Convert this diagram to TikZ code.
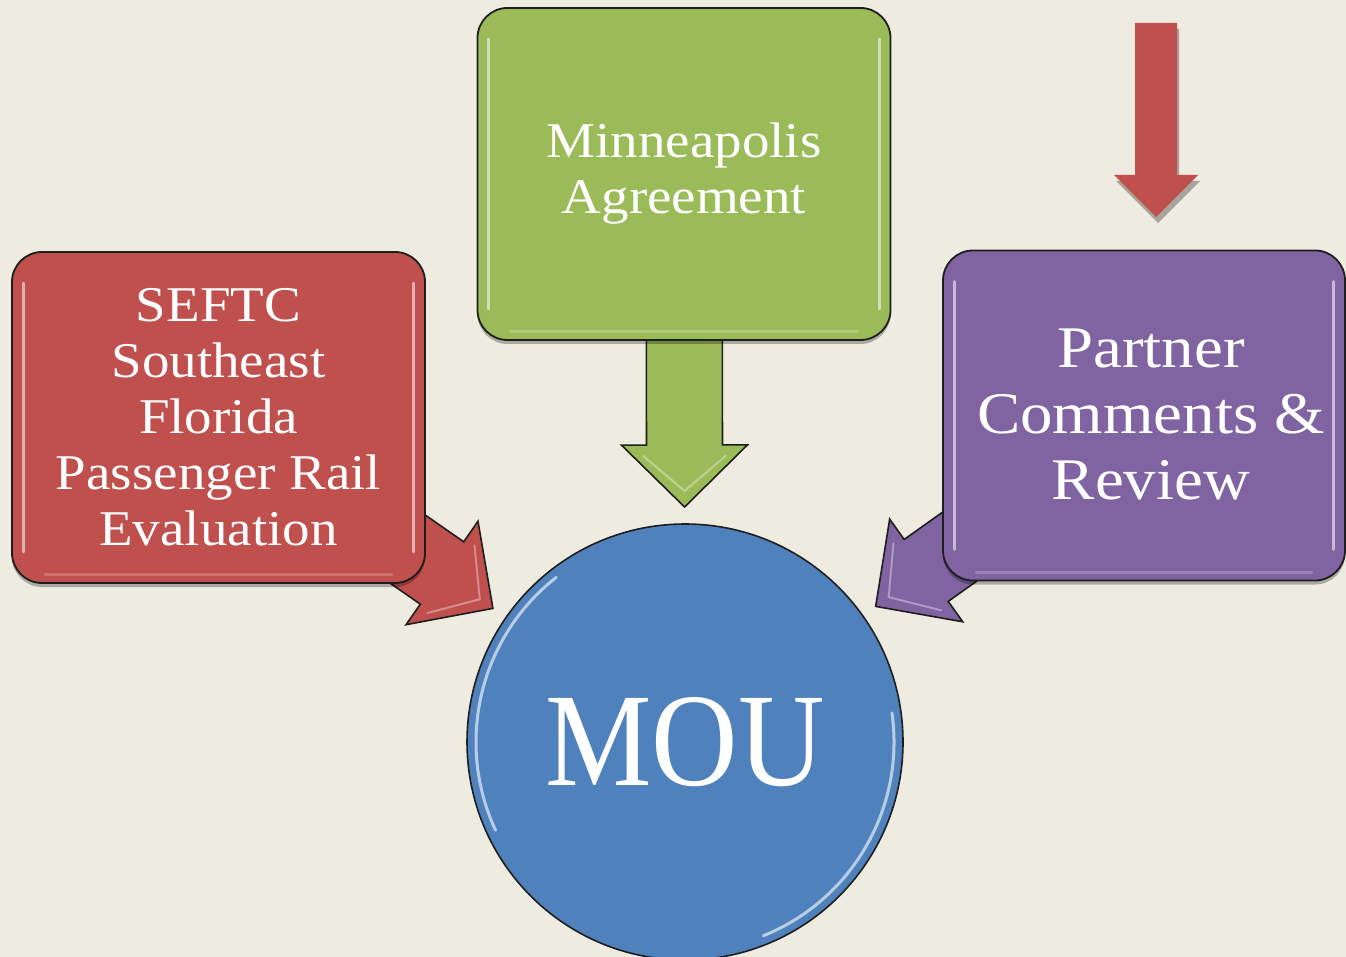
\documentclass[tikz,border=0pt]{standalone}
\usepackage{fontspec}
\setmainfont[FakeStretch=1.1]{Liberation Serif}
\newfontfamily\moufont[FakeStretch=0.9]{Liberation Serif}
\usetikzlibrary{calc,shadows}
\definecolor{bgc}{HTML}{EEECE1}
\definecolor{redc}{HTML}{C0504D}
\definecolor{greenc}{HTML}{9BBB59}
\definecolor{purplec}{HTML}{8064A2}
\definecolor{bluec}{HTML}{4F81BD}
\definecolor{edgec}{HTML}{1E1E1E}
\pgfdeclarelayer{bglayer}
\pgfdeclarelayer{arrlayer}
\pgfsetlayers{bglayer,arrlayer,main}
\tikzset{
  boxnode/.style={draw=edgec, line width=1.8pt, rounded corners=30pt,
    minimum width=413pt, minimum height=331pt, text=white, align=center,
    inner sep=0pt, font=\fontsize{50}{56}\selectfont,
    drop shadow={shadow xshift=0pt, shadow yshift=-4pt, opacity=0.28, fill=black}},
  boxtext/.style={text=white, align=center, inner sep=0pt},
  glint/.style={draw=white, line width=3pt, opacity=0.55, line cap=round},
  arrowbody/.style={draw=edgec, line width=1.6pt, line join=miter},
}
\newcommand\blockarrow[3]{%
  \path ($(#2)!62pt!(#1)$) coordinate (hb);
  \draw[arrowbody, fill=#3]
    ($(#1)!38pt!90:(#2)$) -- ($(hb)!38pt!90:(#2)$) -- ($(hb)!63pt!90:(#2)$)
    -- (#2) -- ($(hb)!63pt!-90:(#2)$) -- ($(hb)!38pt!-90:(#2)$)
    -- ($(#1)!38pt!-90:(#2)$) -- cycle;
  \draw[glint, opacity=0.35, line width=2pt]
    ($(hb)!50pt!90:(#2)!14pt!(#2)$) -- ($(#2)!16pt!(hb)$) -- ($(hb)!50pt!-90:(#2)!14pt!(#2)$);
}
\begin{document}
\begin{tikzpicture}[x=1pt, y=-1pt]
\begin{pgfonlayer}{bglayer}
  \fill[bgc] (0,0) rectangle (1346,957);
\end{pgfonlayer}
\useasboundingbox (0,0) rectangle (1346,957);

% nodes
\node[boxnode, fill=greenc, minimum height=332pt] (minn) at (684,174)
  {Minneapolis\\Agreement};
\node[boxnode, fill=redc] (seftc) at (218.5,417.5)
  {SEFTC\\Southeast\\Florida\\Passenger Rail\\Evaluation};
\node[boxnode, fill=purplec, minimum width=402pt, minimum height=330pt] (partner) at (1144,415.5) {};
\node[boxtext, font=\fontsize{59}{66}\selectfont] (partnerlabel) at (1151,414)
  {Partner\\Comments \&\\Review};
\node[circle, draw=edgec, line width=1.6pt, fill=bluec, minimum size=436pt,
  inner sep=0pt, text=white] (mou) at (685,742)
  {\moufont\fontsize{133}{140}\selectfont MOU};

% box glints
\foreach \b in {minn,seftc,partner}{
  \draw[glint] ($(\b.north west)+(12,32)$) -- ($(\b.south west)+(12,-32)$);
  \draw[glint] ($(\b.north east)+(-12,32)$) -- ($(\b.south east)+(-12,-32)$);
  \draw[glint, opacity=0.2] ($(\b.south west)+(34,-9)$) -- ($(\b.south east)+(-34,-9)$);
}
% circle glints
\draw[glint, opacity=0.6] ($(mou.center)+(128:209pt)$) arc[start angle=128, end angle=205, radius=209pt];
\draw[glint, opacity=0.6] ($(mou.center)+(-68:209pt)$) arc[start angle=-68, end angle=8, radius=209pt];

% connectors (block arrows) behind the boxes
\coordinate (tipG) at ($(mou.center)!235pt!(minn.center)$);
\coordinate (tipR) at ($(mou.center)!234pt!(seftc.center)$);
\coordinate (tipP) at ($(mou.center)!234pt!(partner.center)$);
\begin{pgfonlayer}{arrlayer}
  \blockarrow{minn.center}{tipG}{greenc}
  \blockarrow{seftc.center}{tipR}{redc}
  \blockarrow{partner.center}{tipP}{purplec}
\end{pgfonlayer}

% free red arrow, top right
\coordinate (dtop) at (1156,23);
\coordinate (dtip) at (1156,217);
\fill[redc, drop shadow={shadow xshift=2pt, shadow yshift=-6pt, opacity=0.3, fill=black}]
  ($(dtop)+(-21,0)$) -- ($(dtop)+(21,0)$) -- ($(dtip)+(21,-42)$) -- ($(dtip)+(42,-42)$)
  -- (dtip) -- ($(dtip)+(-42,-42)$) -- ($(dtip)+(-21,-42)$) -- cycle;
\end{tikzpicture}
\end{document}
